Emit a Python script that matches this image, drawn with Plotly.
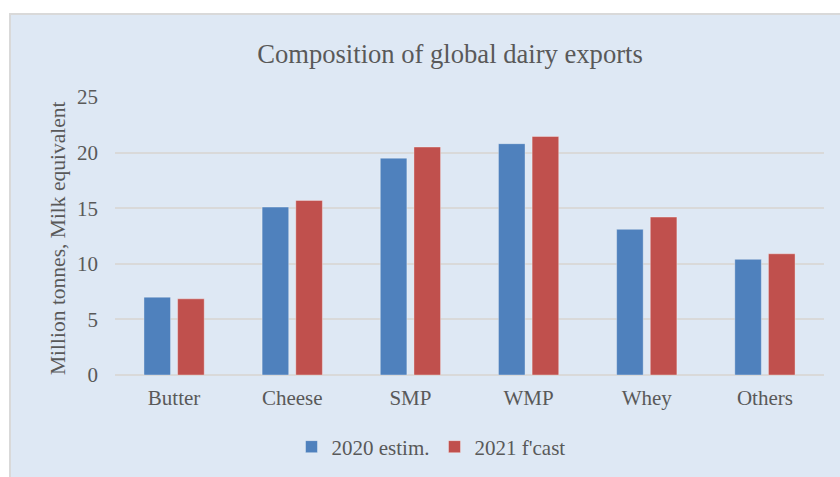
import plotly.graph_objects as go

# Global dairy export composition, million tonnes milk equivalent
categories = ["Butter", "Cheese", "SMP", "WMP", "Whey", "Others"]
estim_2020 = [7.0, 15.1, 19.5, 20.8, 13.1, 10.4]
fcast_2021 = [6.85, 15.7, 20.5, 21.45, 14.2, 10.9]
series_names = ["2020 estim.", "2021 f'cast"]
y_ticks = [0, 5, 10, 15, 20, 25]

W, H = 840, 477
L, R, T, B = 115, 16, 97, 102
pw, ph = W - L - R, H - T - B

def px_x(x):
    return (x - L) / pw

def px_y(y):
    return 1 - (y - T) / ph

FONT = "Liberation Serif"
TXT = "#595959"
BLUE = "#4f81bd"
RED = "#c0504d"
BG = "#dee8f4"
GRID = "#d9d9d9"

fig = go.Figure()
fig.add_trace(go.Bar(
    x=categories, y=estim_2020, name=series_names[0],
    marker=dict(color=BLUE, line=dict(color="rgba(255,255,255,0.35)", width=1)),
))
fig.add_trace(go.Bar(
    x=categories, y=fcast_2021, name=series_names[1],
    marker=dict(color=RED, line=dict(color="rgba(255,255,255,0.35)", width=1)),
))

fig.update_layout(
    width=W, height=H,
    margin=dict(l=L, r=R, t=T, b=B, autoexpand=False),
    paper_bgcolor="white",
    plot_bgcolor="rgba(0,0,0,0)",
    barmode="group",
    bargap=0.43,
    bargroupgap=0.21,
    font=dict(family=FONT, size=21, color=TXT),
    title=dict(
        text="Composition of global dairy exports",
        font=dict(family=FONT, size=26.6, color=TXT),
        x=450 / W, xanchor="center",
        y=1 - 54 / H, yanchor="middle",
        xref="container", yref="container",
    ),
    xaxis=dict(
        showgrid=False, showline=False, zeroline=False,
        ticks="", ticklabelstandoff=8,
        tickfont=dict(family=FONT, size=21, color=TXT),
    ),
    yaxis=dict(
        range=[0, 25], tickvals=y_ticks,
        showgrid=True, gridcolor=GRID, gridwidth=1.5,
        zeroline=True, zerolinecolor=GRID, zerolinewidth=1.5,
        showline=False, ticks="", ticklabelstandoff=16,
        tickfont=dict(family=FONT, size=21, color=TXT),
    ),
    legend=dict(
        orientation="h",
        x=px_x(431), xanchor="center",
        y=px_y(447), yanchor="middle",
        bgcolor="rgba(0,0,0,0)",
        font=dict(family=FONT, size=21, color=TXT),
        itemwidth=30,
        traceorder="normal",
    ),
    showlegend=True,
    shapes=[dict(
        type="rect", xref="paper", yref="paper", layer="below",
        x0=px_x(10), x1=px_x(W + 20), y0=px_y(H + 20), y1=px_y(14),
        fillcolor=BG, line=dict(color=GRID, width=2),
    )],
    annotations=[dict(
        text="Million tonnes, Milk equivalent",
        xref="paper", yref="paper",
        x=px_x(58), y=px_y(238),
        xanchor="center", yanchor="middle",
        textangle=-90, showarrow=False,
        font=dict(family=FONT, size=21.5, color=TXT),
    )],
)

fig.write_html("out.html")
